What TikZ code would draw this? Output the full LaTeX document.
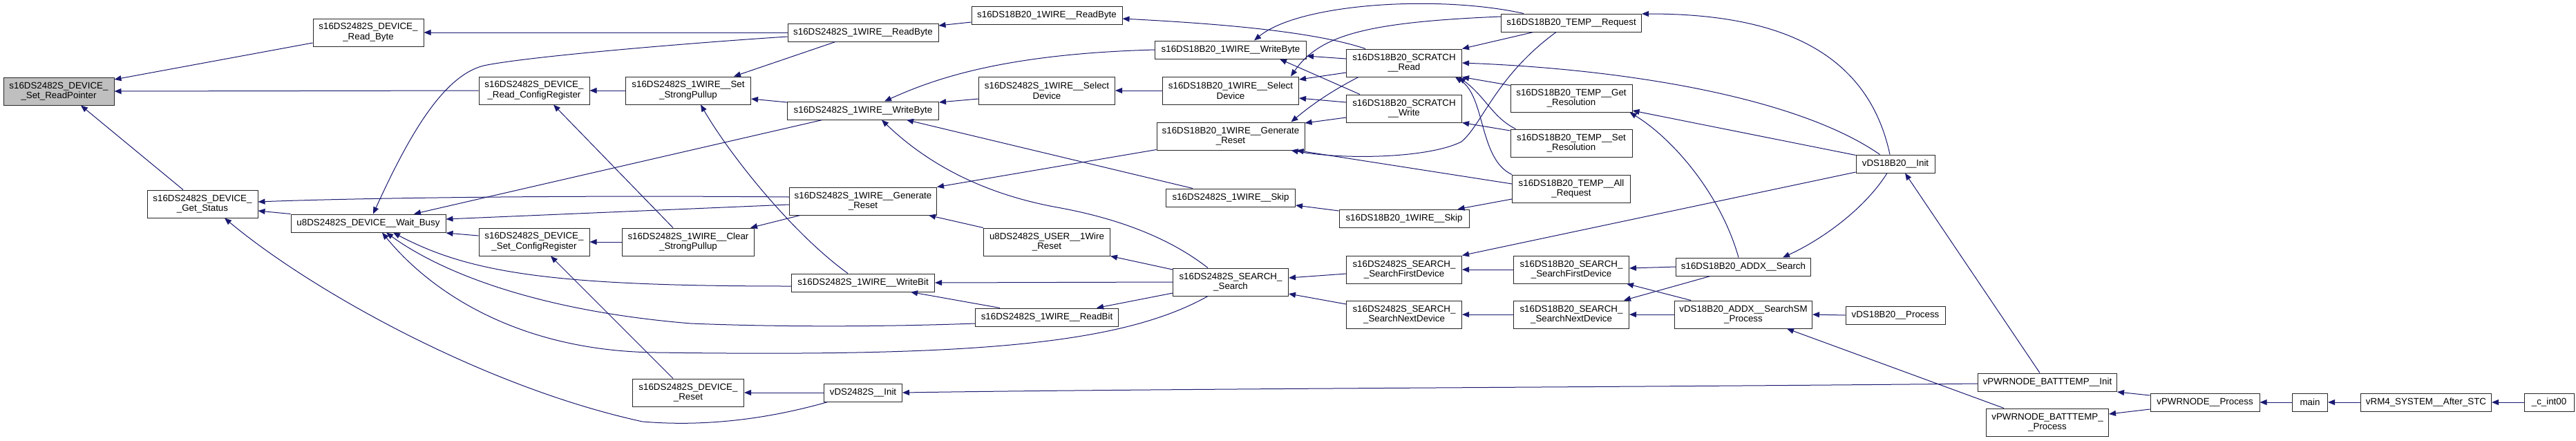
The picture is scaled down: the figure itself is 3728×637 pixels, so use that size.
\documentclass[tikz,border=0pt]{standalone}
\usepackage{fontspec}
\setmainfont{Liberation Sans}
\usetikzlibrary{arrows.meta,calc}
\definecolor{edgec}{HTML}{191970}
\tikzset{
  nbox/.style={draw=black!85, line width=0.75pt, fill=white, inner sep=0pt, align=center, font=\fontsize{10pt}{11pt}\selectfont},
  sz/.style 2 args={minimum width=#1*0.75pt, minimum height=#2*0.75pt},
  hl/.style={fill=black!25},
  cl/.style={draw=edgec, line width=0.75pt, {Triangle[length=7.5pt,width=6pt]}-}
}
\begin{document}
\begin{tikzpicture}[x=0.75pt, y=-0.75pt]
\path[fill=white, use as bounding box] (0,0) rectangle (3728,637);
% nodes
\node[nbox,sz={160}{40},hl] (srp) at (85,132) {s16DS2482S\_DEVICE\_\\\_Set\_ReadPointer};
\node[nbox,sz={160}{40}] (rbyte) at (533,47) {s16DS2482S\_DEVICE\_\\\_Read\_Byte};
\node[nbox,sz={160}{40}] (gst) at (293,295) {s16DS2482S\_DEVICE\_\\\_Get\_Status};
\node[nbox,sz={224}{26}] (wb) at (533,323) {u8DS2482S\_DEVICE\_\_Wait\_Busy};
\node[nbox,sz={160}{40}] (rcr) at (773,131) {s16DS2482S\_DEVICE\_\\\_Read\_ConfigRegister};
\node[nbox,sz={160}{40}] (scr) at (773,350) {s16DS2482S\_DEVICE\_\\\_Set\_ConfigRegister};
\node[nbox,sz={181}{40}] (ssp) at (996,131) {s16DS2482S\_1WIRE\_\_Set\\\_StrongPullup};
\node[nbox,sz={191}{40}] (csp) at (996,350) {s16DS2482S\_1WIRE\_\_Clear\\\_StrongPullup};
\node[nbox,sz={161}{40}] (drst) at (996,568) {s16DS2482S\_DEVICE\_\\\_Reset};
\node[nbox,sz={218}{26}] (wrb) at (1249,47) {s16DS2482S\_1WIRE\_\_ReadByte};
\node[nbox,sz={219}{26}] (wwb) at (1249,160) {s16DS2482S\_1WIRE\_\_WriteByte};
\node[nbox,sz={213}{40}] (wgr) at (1249,291) {s16DS2482S\_1WIRE\_\_Generate\\\_Reset};
\node[nbox,sz={207}{26}] (wwbit) at (1249,409) {s16DS2482S\_1WIRE\_\_WriteBit};
\node[nbox,sz={113}{26}] (d2init) at (1249,568) {vDS2482S\_\_Init};
\node[nbox,sz={218}{26}] (brb) at (1515,22) {s16DS18B20\_1WIRE\_\_ReadByte};
\node[nbox,sz={197}{40}] (sel2) at (1515,131) {s16DS2482S\_1WIRE\_\_Select\\Device};
\node[nbox,sz={183}{40}] (urst) at (1515,350) {u8DS2482S\_USER\_\_1Wire\\\_Reset};
\node[nbox,sz={207}{26}] (rbit) at (1515,459) {s16DS2482S\_1WIRE\_\_ReadBit};
\node[nbox,sz={219}{26}] (bwb) at (1781,72) {s16DS18B20\_1WIRE\_\_WriteByte};
\node[nbox,sz={197}{40}] (sel18) at (1781,131) {s16DS18B20\_1WIRE\_\_Select\\Device};
\node[nbox,sz={214}{40}] (bgr) at (1781,197) {s16DS18B20\_1WIRE\_\_Generate\\\_Reset};
\node[nbox,sz={187}{26}] (skip2) at (1781,286) {s16DS2482S\_1WIRE\_\_Skip};
\node[nbox,sz={167}{40}] (ssearch) at (1781,408) {s16DS2482S\_SEARCH\_\\\_Search};
\node[nbox,sz={167}{40}] (scrr) at (2032,91) {s16DS18B20\_SCRATCH\\\_\_Read};
\node[nbox,sz={167}{40}] (scrw) at (2032,157) {s16DS18B20\_SCRATCH\\\_\_Write};
\node[nbox,sz={188}{26}] (skip18) at (2032,316) {s16DS18B20\_1WIRE\_\_Skip};
\node[nbox,sz={167}{40}] (sfd2) at (2032,390) {s16DS2482S\_SEARCH\_\\\_SearchFirstDevice};
\node[nbox,sz={167}{40}] (snd2) at (2032,455) {s16DS2482S\_SEARCH\_\\\_SearchNextDevice};
\node[nbox,sz={203}{26}] (treq) at (2274,33) {s16DS18B20\_TEMP\_\_Request};
\node[nbox,sz={176}{40}] (tget) at (2274,142) {s16DS18B20\_TEMP\_\_Get\\\_Resolution};
\node[nbox,sz={176}{40}] (tset) at (2274,207) {s16DS18B20\_TEMP\_\_Set\\\_Resolution};
\node[nbox,sz={171}{40}] (tall) at (2274,273) {s16DS18B20\_TEMP\_\_All\\\_Request};
\node[nbox,sz={167}{40}] (sfd18) at (2274,390) {s16DS18B20\_SEARCH\_\\\_SearchFirstDevice};
\node[nbox,sz={167}{40}] (snd18) at (2274,455) {s16DS18B20\_SEARCH\_\\\_SearchNextDevice};
\node[nbox,sz={195}{26}] (asrch) at (2523,386) {s16DS18B20\_ADDX\_\_Search};
\node[nbox,sz={199}{40}] (asm) at (2523,455) {vDS18B20\_ADDX\_\_SearchSM\\\_Process};
\node[nbox,sz={114}{26}] (d18init) at (2743,237) {vDS18B20\_\_Init};
\node[nbox,sz={144}{26}] (d18proc) at (2743,456) {vDS18B20\_\_Process};
\node[nbox,sz={201}{26}] (binit) at (2963,553) {vPWRNODE\_BATTTEMP\_\_Init};
\node[nbox,sz={177}{40}] (bproc) at (2963,611) {vPWRNODE\_BATTTEMP\_\\\_Process};
\node[nbox,sz={158}{26}] (pproc) at (3191,582) {vPWRNODE\_\_Process};
\node[nbox,sz={51}{26}] (mainn) at (3343,582) {main};
\node[nbox,sz={189}{26}] (rm4) at (3511,582) {vRM4\_SYSTEM\_\_After\_STC};
\node[nbox,sz={72}{26}] (cint) at (3689,582) {\_c\_int00};
% edges (arrow at callee)
\draw[cl] ($(srp.east)+(0,-17)$) -- ($(rbyte.west)+(0,15)$);
\draw[cl] (srp.east) -- (rcr.west);
\draw[cl] ($(srp.south)+(32,0)$) -- ($(gst.north)+(-28,0)$);
\draw[cl] (rbyte.east) -- (wrb.west);
\draw[cl] ($(wb.north)+(7,0)$) .. controls (590,200) and (640,110) .. (700,95) .. controls (760,82) and (1000,62) .. ($(wrb.west)+(0,6)$);
\draw[cl] (rcr.east) -- (ssp.west);
\draw[cl] ($(ssp.north)+(66,0)$) -- ($(wrb.south)+(-40,0)$);
\draw[cl] ($(ssp.east)+(0,12)$) -- ($(wwb.west)+(0,-12)$);
\draw[cl] ($(wb.north)+(66,0)$) -- ($(wwb.south)+(-59,0)$);
\draw[cl] ($(gst.east)+(0,-3)$) .. controls (500,287) and (800,282) .. ($(wgr.west)+(0,-6)$);
\draw[cl] ($(wb.east)+(0,-6)$) -- ($(wgr.west)+(0,5)$);
\draw[cl] ($(wb.east)+(0,14)$) -- ($(scr.west)+(0,-9)$);
\draw[cl] (scr.east) -- (csp.west);
\draw[cl] ($(rcr.south)+(28,0)$) -- ($(csp.north)+(-22,0)$);
\draw[cl] ($(ssp.south)+(18,0)$) .. controls (1060,230) and (1150,340) .. ($(wwbit.north)+(-22,0)$);
\draw[cl] ($(csp.north east)+(-6,0)$) -- ($(wgr.south west)+(16,0)$);
\draw[cl] ($(wwb.north)+(31,0)$) .. controls (1350,115) and (1450,78) .. (bwb.west);
\draw[cl] ($(wwb.east)+(0,-12)$) -- ($(sel2.west)+(0,12)$);
\draw[cl] ($(wwb.south)+(63,0)$) -- ($(skip2.north)+(-55,0)$);
\draw[cl] ($(wwb.south)+(27,0)$) .. controls (1340,235) and (1420,280) .. (1530,300) .. controls (1630,318) and (1700,350) .. ($(ssearch.north)+(-33,0)$);
\draw[cl] (wgr.north east) -- ($(bgr.south west)+(0,-1)$);
\draw[cl] ($(wgr.south east)+(-12,0)$) -- (urst.north west);
\draw[cl] ($(wrb.east)+(0,-10)$) -- ($(brb.west)+(0,10)$);
\draw[cl] (sel2.east) -- (sel18.west);
\draw[cl] ($(bwb.north)+(34,0)$) .. controls (1880,5) and (2080,-8) .. ($(treq.north west)+(33,0)$);
\draw[cl] ($(brb.east)+(0,5)$) .. controls (1760,34) and (1900,45) .. ($(scrr.north west)+(28,0)$);
\draw[cl] ($(bwb.east)+(0,9)$) -- ($(scrr.west)+(0,-6)$);
\draw[cl] ($(bwb.south east)+(-39,0)$) -- ($(scrw.north west)+(20,0)$);
\draw[cl] ($(sel18.north east)+(-12,0)$) .. controls (1910,50) and (1980,32) .. ($(treq.west)+(0,-9)$);
\draw[cl] ($(sel18.east)+(0,-16)$) -- ($(scrr.west)+(0,14)$);
\draw[cl] ($(sel18.east)+(0,11)$) -- ($(scrw.west)+(0,-9)$);
\draw[cl] ($(bgr.north east)+(-20,0)$) .. controls (1900,150) and (1930,130) .. ($(scrr.south)+(-66,0)$);
\draw[cl] ($(bgr.east)+(0,-19)$) -- ($(scrw.west)+(0,13)$);
\draw[cl] ($(bgr.south east)+(-20,0)$) .. controls (1950,232) and (2070,228) .. (2115,205) .. controls (2145,180) and (2165,110) .. ($(treq.south)+(-22,0)$);
\draw[cl] ($(bgr.south east)+(-12,0)$) -- ($(tall.west)+(0,-7)$);
\draw[cl] (scrr.north east) -- ($(treq.south west)+(47,0)$);
\draw[cl] (scrr.east) .. controls (2350,100) and (2600,140) .. ($(d18init.north west)+(35,0)$);
\draw[cl] (scrr.south east) -- ($(tget.north west)+(0,2)$);
\draw[cl] ($(scrr.south east)+(-5,0)$) .. controls (2150,140) and (2160,170) .. ($(tset.north west)+(8,0)$);
\draw[cl] ($(scrr.south east)+(-10,0)$) .. controls (2150,140) and (2140,230) .. (tall.north west);
\draw[cl] (scrw.south east) -- ($(tset.west)+(0,-18)$);
\draw[cl] ($(treq.east)+(0,-13)$) .. controls (2550,20) and (2700,60) .. ($(d18init.north)+(-8,0)$);
\draw[cl] ($(tget.east)+(0,18)$) -- ($(d18init.north west)+(0,1)$);
\draw[cl] (sfd2.north east) -- ($(d18init.west)+(0,12)$);
\draw[cl] ($(tget.south east)+(-4,0)$) .. controls (2420,200) and (2490,280) .. ($(asrch.north)+(-7,0)$);
\draw[cl] ($(asrch.north)+(57,0)$) .. controls (2640,345) and (2700,300) .. ($(d18init.south)+(-12,0)$);
\draw[cl] ($(d18init.south)+(14,0)$) -- ($(binit.north)+(-11,0)$);
\draw[cl] (asm.east) -- (d18proc.west);
\draw[cl] ($(asm.south)+(63,0)$) -- ($(bproc.north)+(-63,0)$);
\draw[cl] (d2init.east) .. controls (1700,562) and (2400,560) .. ($(binit.west)+(0,2)$);
\draw[cl] ($(binit.east)+(0,14)$) -- ($(pproc.west)+(0,-10)$);
\draw[cl] ($(bproc.east)+(0,-12)$) -- ($(pproc.west)+(0,10)$);
\draw[cl] (pproc.east) -- (mainn.west);
\draw[cl] (mainn.east) -- (rm4.west);
\draw[cl] (rm4.east) -- (cint.west);
\draw[cl] (drst.east) -- (d2init.west);
\draw[cl] ($(scr.south)+(24,0)$) -- ($(drst.north)+(-22,0)$);
\draw[cl] ($(gst.east)+(0,10)$) -- (wb.north west);
\draw[cl] ($(wb.south)+(36,0)$) .. controls (680,395) and (800,414) .. ($(wwbit.west)+(0,5)$);
\draw[cl] ($(wb.south)+(26,0)$) .. controls (640,395) and (780,450) .. (1000,468) .. controls (1150,474) and (1300,472) .. ($(rbit.west)+(0,9)$);
\draw[cl] ($(wb.south)+(20,0)$) .. controls (630,430) and (760,508) .. (950,510) .. controls (1400,516) and (1620,500) .. ($(ssearch.south)+(-33,0)$);
\draw[cl] ($(gst.south)+(32,0)$) .. controls (450,420) and (700,560) .. (930,610) .. controls (1050,620) and (1150,595) .. ($(d2init.south west)+(6,0)$);
\draw[cl] ($(ssearch.east)+(0,-6)$) -- ($(sfd2.west)+(0,6)$);
\draw[cl] ($(ssearch.east)+(0,17)$) -- ($(snd2.west)+(0,-15)$);
\draw[cl] (sfd2.east) -- (sfd18.west);
\draw[cl] (snd2.east) -- (snd18.west);
\draw[cl] ($(sfd18.east)+(0,-2)$) -- (asrch.west);
\draw[cl] ($(sfd18.south east)+(-4,0)$) -- ($(asm.north)+(-76,0)$);
\draw[cl] ($(snd18.north east)+(-8,0)$) -- ($(asrch.south)+(-48,0)$);
\draw[cl] (snd18.east) -- (asm.west);
\draw[cl] (urst.south east) -- ($(ssearch.west)+(0,-18)$);
\draw[cl] (wwbit.east) -- (ssearch.west);
\draw[cl] ($(rbit.north east)+(-32,0)$) -- ($(ssearch.west)+(0,16)$);
\draw[cl] ($(wwbit.south)+(69,0)$) -- ($(rbit.north)+(-68,0)$);
\draw[cl] ($(skip18.north east)+(-17,0)$) -- ($(tall.west)+(0,15)$);
\draw[cl] ($(skip2.east)+(0,11)$) -- ($(skip18.west)+(0,-11)$);
\end{tikzpicture}
\end{document}
